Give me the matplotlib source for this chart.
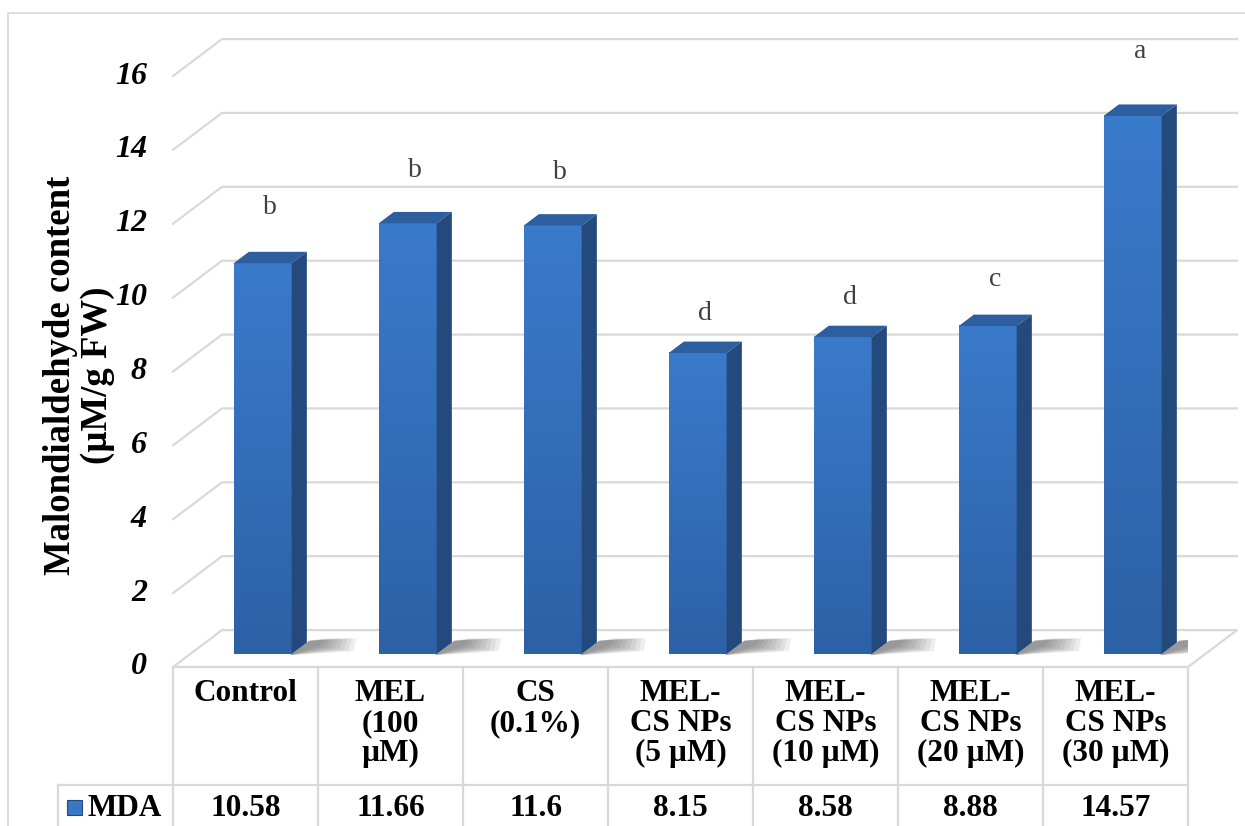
import matplotlib.pyplot as plt
import numpy as np
from matplotlib.colors import LinearSegmentedColormap
from matplotlib.lines import Line2D
from matplotlib.patches import Polygon, Rectangle

plt.rcParams["font.family"] = ["Liberation Serif", "DejaVu Serif"]

# MDA content per treatment
categories = ["Control", "MEL\n(100\nµM)", "CS\n(0.1%)",
              "MEL-\nCS NPs\n(5 µM)", "MEL-\nCS NPs\n(10 µM)",
              "MEL-\nCS NPs\n(20 µM)", "MEL-\nCS NPs\n(30 µM)"]
mda = [10.58, 11.66, 11.6, 8.15, 8.58, 8.88, 14.57]
letters = ["b", "b", "b", "d", "d", "c", "a"]
letter_y = [12.43, 13.45, 13.40, 9.58, 9.99, 10.48, 16.65]
yticks = [0, 2, 4, 6, 8, 10, 12, 14, 16]

W, H = 1245, 826
GRID = "#d9d9d9"
FRONT = LinearSegmentedColormap.from_list("front", ["#2d61a6", "#3a7acb"])
TOP = "#2d5e9e"
SIDE = "#24497c"

# depth of the floor in data units (x, y), bar front/back depth fractions
DX, DY = 0.338, 1.0
D0, D1 = 0.35, 0.66
BW = 0.2


def proj(x, v, d):
    return (x + DX * d, v + DY * d)


fig = plt.figure(figsize=(W / 100, H / 100), dpi=100)
ax = fig.add_axes([173 / W, (H - 667) / H, (1188 - 173) / W, (667 - 76) / H])
ax.axis("off")

# outer chart border
fig.add_artist(Line2D([8 / W, 8 / W, 1.0], [0, 1 - 13 / H, 1 - 13 / H],
                      transform=fig.transFigure, color=GRID, lw=1.3))

# back wall gridlines and floor
for v in yticks:
    pts = [proj(-0.5, v, 0), proj(-0.5, v, 1), proj(6.5, v, 1)]
    if v == 0:
        pts.append(proj(6.5, 0, 0))
    xs, ys = zip(*pts)
    ax.plot(xs, ys, color=GRID, lw=1.6, clip_on=False, zorder=1)
    ax.text(-0.68, v, str(v), ha="right", va="center", fontsize=23,
            fontweight="bold", style="italic")

ax.text(-1.148, 7.9, "Malondialdehyde content\n(µM/g FW)", rotation=90,
        ha="center", va="center", multialignment="center", fontsize=26.5,
        fontweight="bold", linespacing=1.1)

grad = np.linspace(0, 1, 64).reshape(-1, 1)
for i, val in enumerate(mda):
    x0, x1 = i - BW, i + BW
    # soft floor shadow to the right of each bar
    for k in range(8):
        L = 0.40 - k * 0.04
        shadow = [proj(x1, 0, D0 - 0.03), proj(x1 + L, 0, D0 + 0.08 + 0.02 * k),
                  proj(x1 + L * 0.75, 0, D1 + 0.12), proj(x1, 0, D1 + 0.05)]
        ax.add_patch(Polygon(shadow, closed=True, color="#303030",
                             alpha=0.08, lw=0, zorder=2))
    fx0, _ = proj(x0, 0, D0)
    fx1, _ = proj(x1, 0, D0)
    ax.imshow(grad, extent=(fx0, fx1, D0 * DY, val + D0 * DY), origin="lower",
              cmap=FRONT, aspect="auto", interpolation="bicubic", zorder=3)
    top = [proj(x0, val, D0), proj(x1, val, D0), proj(x1, val, D1), proj(x0, val, D1)]
    ax.add_patch(Polygon(top, closed=True, color=TOP, lw=0, zorder=3))
    side = [proj(x1, 0, D0), proj(x1, val, D0), proj(x1, val, D1), proj(x1, 0, D1)]
    ax.add_patch(Polygon(side, closed=True, color=SIDE, lw=0, zorder=3))
    ax.text(i + DX * 0.5, letter_y[i], letters[i], ha="center", va="center",
            fontsize=20, color="#404040")

# data table under the plot
ROW = -3.19
BOT = -4.6
LEFT = -1.293
ax.plot([-0.5, 6.5], [0, 0], color=GRID, lw=1.6, clip_on=False, zorder=1)
ax.plot([LEFT, 6.5], [ROW, ROW], color=GRID, lw=1.6, clip_on=False, zorder=1)
ax.plot([LEFT, LEFT], [ROW, BOT], color=GRID, lw=1.6, clip_on=False, zorder=1)
for k in range(8):
    ax.plot([-0.5 + k, -0.5 + k], [0, BOT], color=GRID, lw=1.6,
            clip_on=False, zorder=1)
for i, (cat, val) in enumerate(zip(categories, mda)):
    ax.text(i, -0.33, cat, ha="center", va="top", multialignment="center",
            fontsize=22.5, fontweight="bold", linespacing=1.05)
    ax.text(i, -3.82, f"{val:g}", ha="center", va="center",
            fontsize=22.5, fontweight="bold")

ax.add_patch(Rectangle((-1.231, -4.02), 0.1, 0.42, facecolor="#3a78c6",
                       edgecolor="#24497c", lw=0.8, clip_on=False, zorder=3))
ax.text(-1.09, -3.82, "MDA", ha="left", va="center", fontsize=22.5,
        fontweight="bold")

ax.set_xlim(-0.5, 6.5)
ax.set_ylim(0, 16)
fig.savefig("out.png", dpi=100)
